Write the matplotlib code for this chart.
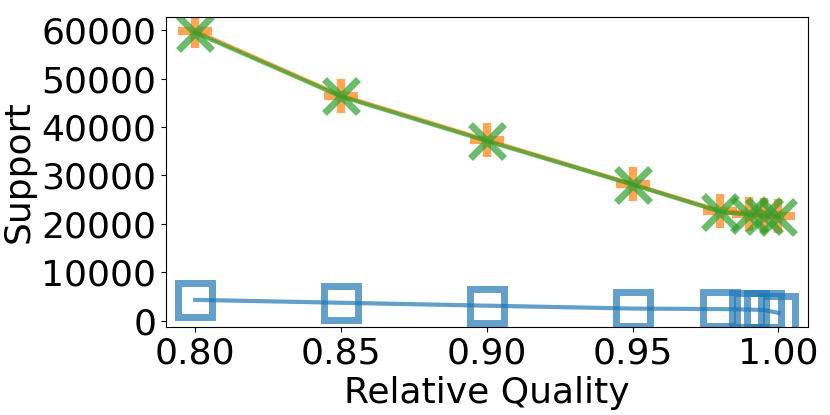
import matplotlib
matplotlib.use("Agg")
import matplotlib.pyplot as plt

quality = [0.80, 0.85, 0.90, 0.95, 0.98, 0.99, 0.995, 1.00]
support_square = [4300, 3700, 3100, 2500, 2400, 2300, 2200, 1600]
support_plus = [59800, 46500, 37300, 28200, 22700, 22000, 21800, 21600]
support_x = [59500, 46300, 37100, 28100, 22500, 21900, 21700, 21500]

plt.rcParams["font.size"] = 26

fig, ax = plt.subplots(figsize=(8.3, 4.15), dpi=100)

ax.plot(quality, support_square, marker="s", markersize=24, markeredgewidth=5,
        markerfacecolor="none", color="tab:blue", linewidth=3, alpha=0.7)
ax.plot(quality, support_plus, marker="+", markersize=24, markeredgewidth=6,
        color="tab:orange", linewidth=3, alpha=0.7)
ax.plot(quality, support_x, marker="x", markersize=24, markeredgewidth=5,
        color="tab:green", linewidth=3, alpha=0.7)

ax.set_xlabel("Relative Quality")
ax.set_ylabel("Support")
ax.set_xticks([0.80, 0.85, 0.90, 0.95, 1.00])
ax.set_yticks([0, 10000, 20000, 30000, 40000, 50000, 60000])

fig.subplots_adjust(left=0.2, right=0.973, top=0.959, bottom=0.212)
fig.savefig("out.png")
